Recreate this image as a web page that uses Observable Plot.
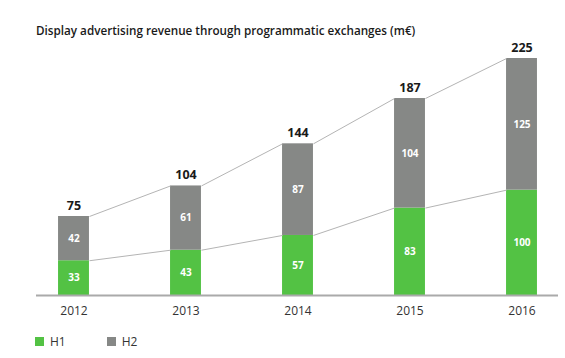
<!DOCTYPE html>
<html>
<head>
<meta charset="utf-8">
<script src="https://cdn.jsdelivr.net/npm/d3@7"></script>
<script src="https://cdn.jsdelivr.net/npm/@observablehq/plot@0.6"></script>
<style>
  html, body { margin: 0; padding: 0; background: #fff; }
  body { width: 565px; height: 358px; overflow: hidden; font-family: "Open Sans", sans-serif; }
  .title { height: 38px; box-sizing: border-box; padding-top: 22px; padding-left: 36px; font-size: 11.7px; line-height: 16px; font-weight: 600; color: #1a1a1a; white-space: nowrap; }
  #chart svg { display: block; }
  .legend { display: flex; align-items: center; padding-left: 35px; margin-top: 5px; font-size: 12px; color: #333; }
  .legend .item { display: flex; align-items: center; margin-right: 41px; }
  .legend .sw { width: 9px; height: 9px; margin-right: 6px; }
</style>
</head>
<body>
<div class="title">Display advertising revenue through programmatic exchanges (m€)</div>
<div id="chart"></div>
<div class="legend" id="legend"></div>
<script>
const years = [2012, 2013, 2014, 2015, 2016];
const h1 = [33, 43, 57, 83, 100];
const h2 = [42, 61, 87, 104, 125];
const totals = [75, 104, 144, 187, 225];
const seriesNames = ["H1", "H2"];
const colors = ["#53c244", "#868886"];

const hw = 0.138; // half bar width in year units

const rows = [];
years.forEach((y, i) => {
  rows.push({year: y, series: "H1", lo: 0, hi: h1[i], v: h1[i]});
  rows.push({year: y, series: "H2", lo: h1[i], hi: h1[i] + h2[i], v: h2[i]});
});
const tot = years.map((y, i) => ({year: y, total: totals[i]}));
const links = [];
for (let i = 0; i < years.length - 1; i++) {
  links.push({x1: years[i] + hw, x2: years[i + 1] - hw, y1: h1[i], y2: h1[i + 1]});
  links.push({x1: years[i] + hw, x2: years[i + 1] - hw, y1: totals[i], y2: totals[i + 1]});
}

const chart = Plot.plot({
  width: 565,
  height: 290,
  marginLeft: 36,
  marginRight: 7,
  marginTop: 20,
  marginBottom: 33,
  style: {fontFamily: "'Open Sans', sans-serif", background: "#fff"},
  x: {type: "linear", domain: [2012 - 37.5 / 112, 2016 + 36.5 / 112]},
  y: {domain: [0, 225], axis: null},
  color: {domain: seriesNames, range: colors},
  marks: [
    Plot.rect(rows, {x1: d => d.year - hw, x2: d => d.year + hw, y1: "lo", y2: "hi", fill: "series"}),
    Plot.link(links, {x1: "x1", x2: "x2", y1: "y1", y2: "y2", stroke: "#b4b4b4", strokeWidth: 1}),
    Plot.ruleY([0], {stroke: "#aaaaaa", strokeWidth: 2}),
    Plot.text(rows, {x: "year", y: d => (d.lo + d.hi) / 2, text: d => String(d.v), fill: "#fff", fontWeight: "bold", fontSize: 10}),
    Plot.text(tot, {x: "year", y: "total", text: d => String(d.total), dy: -11, fill: "#1a1a1a", fontWeight: "bold", fontSize: 12.5}),
    Plot.axisX({ticks: years, tickSize: 0, tickPadding: 11, tickFormat: d => String(d), fontSize: 12, color: "#333"})
  ]
});
document.getElementById("chart").appendChild(chart);

const leg = document.getElementById("legend");
seriesNames.forEach((n, i) => {
  const it = document.createElement("div");
  it.className = "item";
  const sw = document.createElement("div");
  sw.className = "sw";
  sw.style.background = colors[i];
  const lb = document.createElement("span");
  lb.textContent = n;
  it.appendChild(sw);
  it.appendChild(lb);
  leg.appendChild(it);
});
</script>
</body>
</html>
